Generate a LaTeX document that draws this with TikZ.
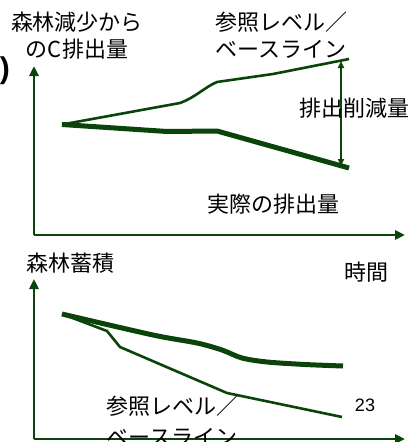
\documentclass[tikz,border=0pt]{standalone}
\usepackage{fontspec}
\setmainfont{Noto Sans CJK JP}
\newfontfamily\latinfont{Liberation Sans}
\usetikzlibrary{arrows.meta}
\definecolor{dkgreen}{RGB}{10,68,10}
\begin{document}
\begin{tikzpicture}[x=1pt,y=-1pt,
  axisline/.style={draw=dkgreen,line width=2.6pt,-{Triangle[length=10pt,width=9pt]}},
  refline/.style={draw=dkgreen,line width=2.6pt,line join=round},
  actline/.style={draw=dkgreen,line width=5pt,line join=round},
  dblarrow/.style={draw=dkgreen,line width=1.6pt,{Triangle[length=7pt,width=6pt]}-{Triangle[length=7pt,width=6pt]}},
  lbl/.style={font=\fontsize{22}{27}\selectfont,align=center,inner sep=0pt,text=black},
  lblb/.style={font=\fontsize{22}{31}\selectfont,align=center,inner sep=0pt,text=black}
]
\useasboundingbox (0,0) rectangle (412,442);
\fill[white] (0,0) rectangle (412,442);
% axes top
\coordinate (o1) at (34,235);
\coordinate (y1) at (34,66);
\coordinate (x1) at (405,235);
\draw[axisline] (o1) -- (y1);
\draw[axisline] (o1) -- (x1);
% axes bottom
\coordinate (o2) at (34,439);
\coordinate (y2) at (34,279);
\coordinate (x2) at (405,439);
\draw[axisline] (o2) -- (y2);
\draw[axisline] (o2) -- (x2);
% top chart lines
\coordinate (s1) at (62,124.5);
\draw[refline] (s1) -- (180,103) .. controls (196,97) and (205,87) .. (217,82) -- (273,74) -- (349,59);
\draw[actline] (s1) -- (167,131.5) -- (217,131) -- (349,168);
\coordinate (da) at (341,61);
\coordinate (db) at (341,166);
\draw[dblarrow] (da) -- (db);
% bottom chart lines
\coordinate (s2) at (62,314);
\draw[actline] plot[smooth,tension=0.5] coordinates {(s2) (153,335) (197,343) (222,350) (242,358) (267,362) (305,364.5) (343,366)};
\draw[refline] (s2) -- (107,331) -- (120,347) -- (227,393) -- (342,417);
% labels
\node[lbl] (t1) at (77,35.5) {森林減少から\\のC排出量};
\node[lbl] (t2) at (281,35.5) {参照レベル／\\ベースライン};
\node[lbl] (t3) at (354,108) {排出削減量};
\node[lbl] (t4) at (273,204) {実際の排出量};
\node[lbl] (t5) at (71,263) {森林蓄積};
\node[lbl] (t6) at (366,272) {時間};
\node[inner sep=0pt,font=\latinfont\fontsize{18}{20}\selectfont] (t7) at (365,405) {23};
\node[lblb] (t8) at (172,421.5) {参照レベル／\\ベースライン};
\node[inner sep=0pt,anchor=east,font=\latinfont\bfseries\fontsize{30}{32}\selectfont] (t9) at (10,71) {)};
\end{tikzpicture}
\end{document}
